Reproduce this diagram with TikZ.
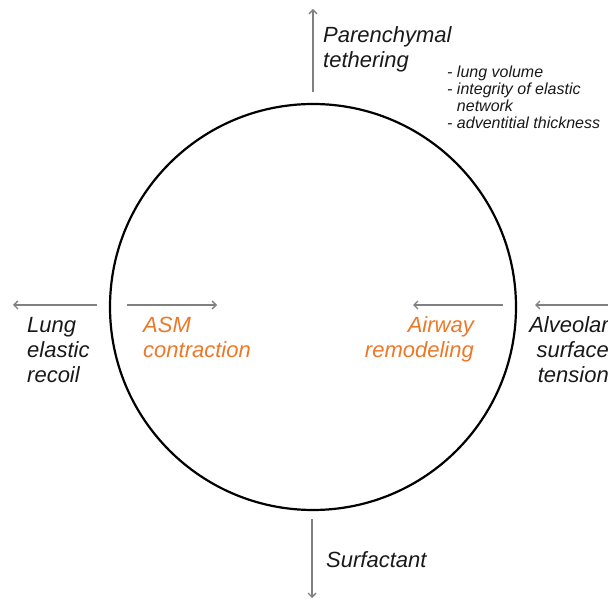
\documentclass[tikz,border=0pt]{standalone}
\usepackage{fontspec}
\setmainfont{Liberation Sans}
\usetikzlibrary{arrows.meta}
\definecolor{asmorange}{RGB}{236,120,40}
\definecolor{forcegrey}{RGB}{128,128,128}

\begin{document}
\begin{tikzpicture}[x=1pt,y=-1pt,inner sep=0pt,
  lbl/.style={font=\fontsize{22}{25}\selectfont\itshape,text=black!90},
  note/.style={font=\fontsize{16}{17}\selectfont\itshape,text=black!90},
  force/.style={draw=forcegrey,line width=1.3pt,-{Straight Barb[length=4pt,width=8pt]}}]
\useasboundingbox (0,0) rectangle (608,601);
\node (airway) at (313,307) [circle,draw,line width=2.2pt,minimum size=406pt] {};

\coordinate (t0) at (313,92);  \coordinate (t1) at (313,9);
\coordinate (b0) at (312,519); \coordinate (b1) at (312,598);
\coordinate (l0) at (97,305);  \coordinate (l1) at (13,305);
\coordinate (r0) at (608,305); \coordinate (r1) at (535,305);
\coordinate (asm0) at (127,305); \coordinate (asm1) at (217,305);
\coordinate (rem0) at (503,305); \coordinate (rem1) at (413,305);

\draw[force] (t0) -- (t1);
\draw[force] (b0) -- (b1);
\draw[force] (l0) -- (l1);
\draw[force] (r0) -- (r1);
\draw[force] (asm0) -- (asm1);
\draw[force] (rem0) -- (rem1);

\node[lbl,anchor=base west,align=left] (teth) at (323,68) {Parenchymal\\tethering};
\node[note,anchor=base west,align=left] (list) at (447,129)
  {- lung volume\\- integrity of elastic\\\phantom{- }network\\- adventitial thickness};
\node[lbl,anchor=base west,align=left] (recoil) at (27,383) {Lung\\elastic\\recoil};
\node[lbl,anchor=base west,align=left,text=asmorange] (asm) at (143,358) {ASM\\contraction};
\node[lbl,anchor=base east,align=right,text=asmorange] (remod) at (474,358) {Airway\\remodeling};
\node[lbl,anchor=base east,align=right] (tension) at (609,383) {Alveolar\\surface\\tension};
\node[lbl,anchor=base west] (surf) at (326,567) {Surfactant};
\end{tikzpicture}
\end{document}
